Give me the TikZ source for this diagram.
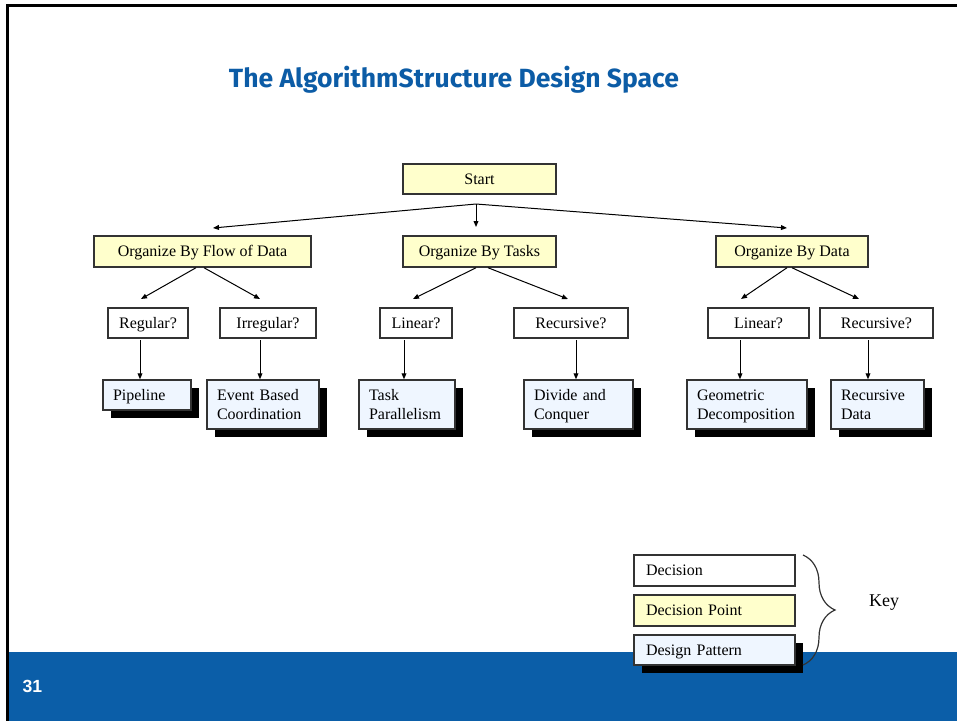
\documentclass[tikz,border=0pt]{standalone}
\usepackage{fontspec}
\setmainfont{Liberation Serif}
\newfontfamily\titlefont{Fira Sans}
\newfontfamily\numfont{Liberation Sans}
\usetikzlibrary{arrows.meta,shadows,decorations.pathreplacing}

\definecolor{barblue}{RGB}{11,94,168}
\definecolor{titleblue}{RGB}{12,92,166}
\definecolor{dpfill}{RGB}{255,255,204}
\definecolor{patfill}{RGB}{239,246,255}
\definecolor{boxline}{RGB}{51,51,51}

% one unit of the drawing grid
\newdimen\pxu \pxu=0.75pt

\begin{document}
\begin{tikzpicture}[x=0.75pt,y=-0.75pt,
  box/.style={draw=boxline, line width=1.1pt, inner sep=0pt,
    minimum height=30\pxu, text height=10.2pt, text depth=2.6pt,
    font=\fontsize{12}{14.25}\selectfont},
  dpoint/.style={box, fill=dpfill},
  decis/.style={box, fill=white},
  patbox/.style={box, fill=patfill, align=left, inner xsep=7.5pt,
    general shadow={fill=black, shadow xshift=6pt, shadow yshift=-6pt}},
  twoline/.style={minimum height=49\pxu, text depth=16.85pt},
  keybox/.style={box, align=left, inner xsep=9pt, text width=102.75pt,
    minimum height=31\pxu},
  arr/.style={line width=0.75pt, -{Triangle[length=4.5pt,width=3.6pt]}},
]
\useasboundingbox (0,0) rectangle (957,721);
\fill[white] (0,0) rectangle (957,721);

% footer band and frame
\fill[barblue] (9,652) rectangle (957,721);
\draw[line width=2.25pt] (7.5,721) -- (7.5,5.5) -- (957,5.5);
\node[anchor=base, inner sep=0pt, text=white,
  font=\numfont\bfseries\fontsize{13.2}{15}\selectfont] (pageno) at (32.5,692) {31};

% heading
\node[anchor=base, inner sep=0pt, text=titleblue, font=\titlefont\bfseries]
  (title) at (454,87.5) {\resizebox{337.5pt}{16pt}{The AlgorithmStructure Design Space}};

% decision points
\node[dpoint, minimum width=153\pxu] (start) at (479.5,179) {Start};
\node[dpoint, minimum width=217\pxu, minimum height=31\pxu] (flow) at (202.5,251.5) {Organize By Flow of Data};
\node[dpoint, minimum width=153\pxu, minimum height=31\pxu] (tasks) at (479.5,251.5) {Organize By Tasks};
\node[dpoint, minimum width=152\pxu, minimum height=31\pxu] (data) at (792,251.5) {Organize By Data};

% decisions
\node[decis, minimum width=80\pxu] (regular) at (148,323) {Regular?};
\node[decis, minimum width=96\pxu] (irregular) at (268,323) {Irregular?};
\node[decis, minimum width=72\pxu] (tlinear) at (416,323) {Linear?};
\node[decis, minimum width=114\pxu] (trec) at (571,323) {Recursive?};
\node[decis, minimum width=101\pxu] (dlinear) at (758.5,323) {Linear?};
\node[decis, minimum width=113\pxu] (drec) at (876.5,323) {Recursive?};

% design patterns
\node[patbox, text width=51pt] (pipeline) at (147,395) {Pipeline};
\node[patbox, twoline, text width=69pt] (event) at (263,404.5) {Event Based\\Coordination};
\node[patbox, twoline, text width=57pt] (taskpar) at (407,404.5) {Task\\Parallelism};
\node[patbox, twoline, text width=66.75pt] (divide) at (578.5,404.5) {Divide and\\Conquer};
\node[patbox, twoline, text width=75pt] (geodec) at (747,404.5) {Geometric\\Decomposition};
\node[patbox, twoline, text width=54.75pt] (recdata) at (877.5,404.5) {Recursive\\Data};

% fork under Start and arrow ends above the decision points
\coordinate (fork) at (476,204);
\coordinate (toflow) at (213,228);
\coordinate (totasks) at (476,227);
\coordinate (todata) at (787,228);
\draw[arr] (fork) -- (toflow);
\draw[arr] (fork) -- (totasks);
\draw[arr] (fork) -- (todata);

% arrow ends above the decisions
\coordinate (toregular) at (141,299);
\coordinate (toirregular) at (260,299);
\coordinate (totlinear) at (413,299);
\coordinate (totrec) at (568,299);
\coordinate (todlinear) at (741,299);
\coordinate (todrec) at (859,299);
\draw[arr] ([xshift=-6.5\pxu]flow.south) -- (toregular);
\draw[arr] ([xshift=1.5\pxu]flow.south) -- (toirregular);
\draw[arr] ([xshift=-3.5\pxu]tasks.south) -- (totlinear);
\draw[arr] ([xshift=8.5\pxu]tasks.south) -- (totrec);
\draw[arr] ([xshift=-5\pxu]data.south) -- (todlinear);
\draw[arr] (data.south) -- (todrec);

% decisions to patterns
\draw[arr] ([xshift=-8\pxu,yshift=-1.5\pxu]regular.south) -- ([xshift=-7\pxu]pipeline.north);
\draw[arr] ([xshift=-8\pxu,yshift=-1.5\pxu]irregular.south) -- ([xshift=-3\pxu]event.north);
\draw[arr] ([xshift=-12\pxu,yshift=-1.5\pxu]tlinear.south) -- ([xshift=-3\pxu]taskpar.north);
\draw[arr] ([xshift=5\pxu,yshift=-1.5\pxu]trec.south) -- ([xshift=-2.5\pxu]divide.north);
\draw[arr] ([xshift=-18.5\pxu,yshift=-1.5\pxu]dlinear.south) -- ([xshift=-7\pxu]geodec.north);
\draw[arr] ([xshift=-8.5\pxu,yshift=-1.5\pxu]drec.south) -- ([xshift=-9.5\pxu]recdata.north);

% key
\node[keybox, fill=white] (kdecision) at (714.5,570.5) {Decision};
\node[keybox, fill=dpfill] (kpoint) at (714.5,610.5) {Decision Point};
\node[keybox, fill=patfill, minimum height=30\pxu,
  general shadow={fill=black, shadow xshift=6pt, shadow yshift=-6pt}] (kpattern) at (714.5,650) {Design Pattern};
\coordinate (bracetop) at (803,555);
\coordinate (bracebot) at (803,665);
\draw[boxline, line width=0.9pt, decorate, decoration={brace, amplitude=24pt}] (bracetop) -- (bracebot);
\node[font=\fontsize{13.5}{16}\selectfont, inner sep=0pt] (key) at (884,603) {Key};
\end{tikzpicture}
\end{document}
